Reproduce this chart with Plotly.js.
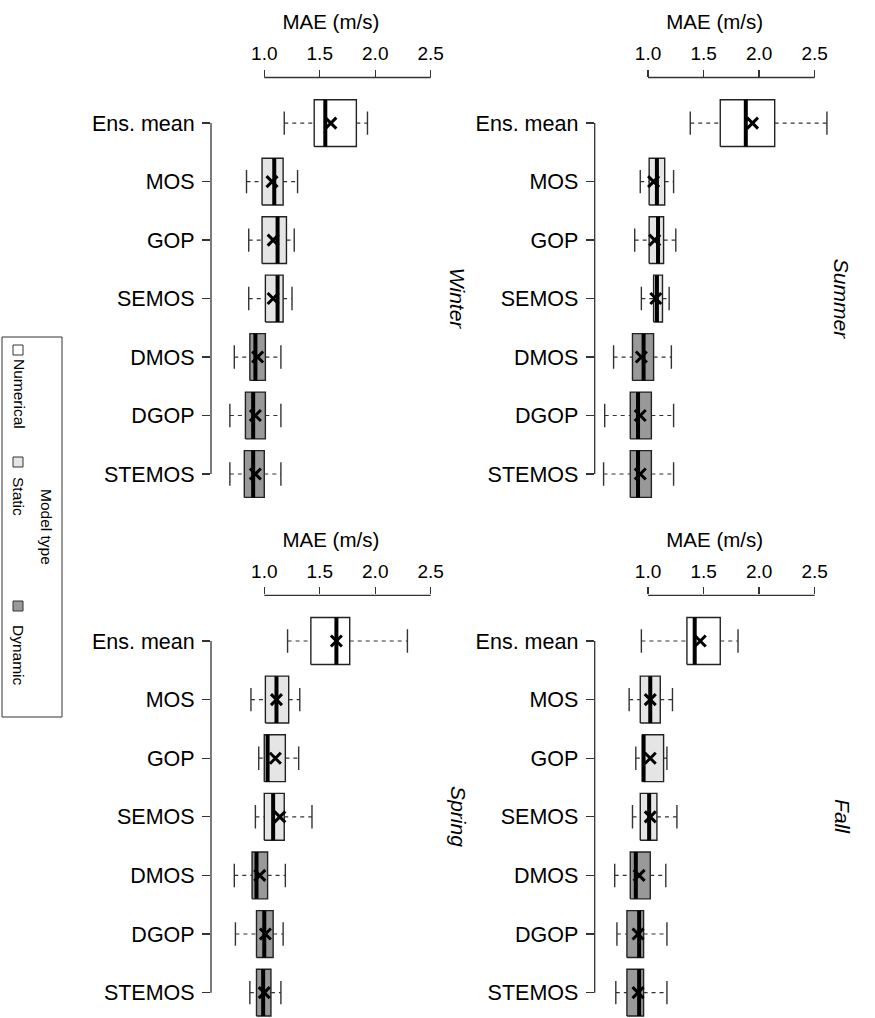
<!DOCTYPE html>
<html>
<head>
<meta charset="utf-8">
<script src="https://cdn.plot.ly/plotly-3.0.1.min.js"></script>
<style>html,body{margin:0;padding:0;background:#fff;}#chart{width:875px;height:1018px;}</style>
</head>
<body>
<div id="chart"></div>
<script>
// ---------- DATA ----------
const models = ['Ens. mean', 'MOS', 'GOP', 'SEMOS', 'DMOS', 'DGOP', 'STEMOS'];
const modelType = ['Numerical', 'Static', 'Static', 'Static', 'Dynamic', 'Dynamic', 'Dynamic'];
const seasons = ['Winter', 'Summer', 'Spring', 'Fall'];
const tickVals = [1.0, 1.5, 2.0, 2.5];
const tickText = ['1.0', '1.5', '2.0', '2.5'];

// Winter
const winterLow    = [1.18, 0.84, 0.86, 0.86, 0.73, 0.69, 0.69];
const winterQ1     = [1.45, 0.98, 0.98, 1.01, 0.87, 0.83, 0.82];
const winterMedian = [1.55, 1.09, 1.12, 1.12, 0.92, 0.90, 0.90];
const winterMean   = [1.60, 1.07, 1.08, 1.08, 0.94, 0.92, 0.92];
const winterQ3     = [1.83, 1.17, 1.20, 1.17, 1.01, 1.01, 1.00];
const winterHigh   = [1.93, 1.30, 1.27, 1.25, 1.15, 1.15, 1.15];

// Summer
const summerLow    = [1.38, 0.93, 0.88, 0.94, 0.69, 0.61, 0.60];
const summerQ1     = [1.65, 1.01, 1.01, 1.05, 0.86, 0.84, 0.84];
const summerMedian = [1.88, 1.08, 1.09, 1.08, 0.96, 0.91, 0.91];
const summerMean   = [1.94, 1.05, 1.06, 1.07, 0.94, 0.93, 0.93];
const summerQ3     = [2.14, 1.15, 1.14, 1.13, 1.05, 1.03, 1.03];
const summerHigh   = [2.61, 1.23, 1.25, 1.19, 1.21, 1.23, 1.23];

// Spring
const springLow    = [1.21, 0.88, 0.95, 0.92, 0.73, 0.74, 0.87];
const springQ1     = [1.42, 1.01, 1.00, 1.00, 0.89, 0.93, 0.93];
const springMedian = [1.65, 1.11, 1.03, 1.08, 0.93, 1.00, 0.99];
const springMean   = [1.65, 1.11, 1.10, 1.14, 0.96, 1.01, 1.00];
const springQ3     = [1.77, 1.22, 1.19, 1.18, 1.03, 1.08, 1.06];
const springHigh   = [2.29, 1.32, 1.31, 1.43, 1.19, 1.17, 1.15];

// Fall
const fallLow    = [0.94, 0.83, 0.89, 0.86, 0.70, 0.72, 0.71];
const fallQ1     = [1.35, 0.93, 0.95, 0.93, 0.84, 0.81, 0.81];
const fallMedian = [1.42, 1.02, 0.96, 1.01, 0.89, 0.92, 0.92];
const fallMean   = [1.47, 1.02, 1.02, 1.02, 0.92, 0.91, 0.91];
const fallQ3     = [1.65, 1.11, 1.14, 1.08, 1.02, 0.96, 0.96];
const fallHigh   = [1.81, 1.22, 1.17, 1.26, 1.16, 1.17, 1.17];

const typeNames = ['Numerical', 'Static', 'Dynamic'];
const typeColors = {Numerical: '#ffffff', Static: '#e5e5e5', Dynamic: '#999999'};

const seasonData = {
  Winter: [winterLow, winterQ1, winterMedian, winterMean, winterQ3, winterHigh],
  Summer: [summerLow, summerQ1, summerMedian, summerMean, summerQ3, summerHigh],
  Spring: [springLow, springQ1, springMedian, springMean, springQ3, springHigh],
  Fall:   [fallLow, fallQ1, fallMedian, fallMean, fallQ3, fallHigh]
};

// ---------- LAYOUT GEOMETRY ----------
const W = 875, H = 1018;
const FONT = 'Liberation Sans, Arial, Helvetica, sans-serif';
const px = v => v / W;
const py = v => 1 - v / H;

const panels = {
  Winter: {xa: 'x',  ya: 'y',  xd: [211, 450.7],   yd: [77.5, 519.6], yr: [0.22, 7.78]},
  Summer: {xa: 'x2', ya: 'y2', xd: [594.7, 834.7], yd: [77.5, 519.6], yr: [0.22, 7.78]},
  Spring: {xa: 'x3', ya: 'y3', xd: [211, 450.7],   yd: [595.3, 1018], yr: [0.567, 7.78]},
  Fall:   {xa: 'x4', ya: 'y4', xd: [594.7, 834.7], yd: [595.3, 1018], yr: [0.567, 7.78]}
};

const yPos = models.map((m, i) => models.length - i);  // Ens. mean at top
const BOXH = 0.4, CAPH = 0.2;

const traces = [];
const shapes = [];
const annotations = [];
const layout = {
  width: W, height: H,
  margin: {l: 0, r: 0, t: 0, b: 0},
  paper_bgcolor: '#ffffff', plot_bgcolor: '#ffffff',
  showlegend: false,
  font: {family: FONT, size: 18, color: '#000'}
};

seasons.forEach((s, si) => {
  const p = panels[s];
  const [lo, q1, med, mn, q3, hi] = seasonData[s];
  // boxes grouped by type
  typeNames.forEach(t => {
    const xs = [], ys = [];
    models.forEach((m, i) => {
      if (modelType[i] !== t) return;
      const y = yPos[i];
      xs.push(q1[i], q3[i], q3[i], q1[i], q1[i], null);
      ys.push(y - BOXH, y - BOXH, y + BOXH, y + BOXH, y - BOXH, null);
    });
    traces.push({type: 'scatter', mode: 'lines', x: xs, y: ys, xaxis: p.xa, yaxis: p.ya,
      fill: 'toself', fillcolor: typeColors[t], line: {color: '#222', width: 1.4}, hoverinfo: 'skip'});
  });
  // whiskers (dashed), caps, medians
  const wx = [], wy = [];
  const cx = [], cy = [];
  const mx = [], my = [];
  models.forEach((m, i) => {
    const y = yPos[i];
    wx.push(lo[i], q1[i], null, q3[i], hi[i], null);
    wy.push(y, y, null, y, y, null);
    cx.push(lo[i], lo[i], null, hi[i], hi[i], null);
    cy.push(y - CAPH, y + CAPH, null, y - CAPH, y + CAPH, null);
    mx.push(med[i], med[i], null);
    my.push(y - BOXH, y + BOXH, null);
  });
  traces.push({type: 'scatter', mode: 'lines', x: wx, y: wy, xaxis: p.xa, yaxis: p.ya,
    line: {color: '#333', width: 1.2, dash: '4px,4px'}, hoverinfo: 'skip'});
  traces.push({type: 'scatter', mode: 'lines', x: cx, y: cy, xaxis: p.xa, yaxis: p.ya,
    line: {color: '#333', width: 1.4}, hoverinfo: 'skip'});
  traces.push({type: 'scatter', mode: 'lines', x: mx, y: my, xaxis: p.xa, yaxis: p.ya,
    line: {color: '#000', width: 4}, hoverinfo: 'skip'});
  traces.push({type: 'scatter', mode: 'markers', x: mn, y: yPos, xaxis: p.xa, yaxis: p.ya,
    marker: {symbol: 'x-thin', size: 11, line: {color: '#000', width: 3}}, hoverinfo: 'skip'});

  const xk = 'xaxis' + (si === 0 ? '' : si + 1);
  const yk = 'yaxis' + (si === 0 ? '' : si + 1);
  layout[xk] = {
    domain: [px(p.xd[0]), px(p.xd[1])], range: [0.52, 2.68], anchor: p.ya, side: 'top',
    showline: false, showgrid: false, zeroline: false,
    ticks: 'outside', ticklen: 7, tickwidth: 1.3, tickcolor: '#333',
    tickvals: tickVals, ticktext: tickText, tickfont: {size: 19, family: FONT},
    ticklabelstandoff: 2,
    title: {text: 'MAE (m/s)', font: {size: 20.5, family: FONT}, standoff: 7},
    fixedrange: true
  };
  layout[yk] = {
    domain: [py(p.yd[1]), py(p.yd[0])], range: p.yr, anchor: p.xa,
    showline: false, showgrid: false, zeroline: false,
    ticks: 'outside', ticklen: 8, tickwidth: 1.3, tickcolor: '#333',
    tickvals: yPos, ticktext: models, tickfont: {size: 21.5, family: FONT},
    ticklabelstandoff: 3,
    fixedrange: true
  };
  // R-style axis lines spanning only the ticks
  shapes.push({type: 'line', xref: p.xa, yref: p.ya + ' domain', x0: tickVals[0], x1: tickVals[tickVals.length - 1], y0: 1, y1: 1,
    line: {color: '#333', width: 1.3}});
  shapes.push({type: 'line', xref: p.xa + ' domain', yref: p.ya, x0: 0, x1: 0, y0: yPos[yPos.length - 1], y1: yPos[0],
    line: {color: '#333', width: 1.3}});
  // season label
  annotations.push({xref: 'paper', yref: p.ya, x: px(p.xd[1] + 7), y: yPos[3], text: '<i>' + s + '</i>',
    showarrow: false, textangle: 90, xanchor: 'center', yanchor: 'middle', font: {size: 21, family: FONT}});
});

// ---------- LEGEND (rotated) ----------
shapes.push({type: 'rect', xref: 'paper', yref: 'paper', x0: px(2), x1: px(62), y0: py(717), y1: py(337),
  line: {color: '#333', width: 1}, fillcolor: 'rgba(0,0,0,0)'});
annotations.push({xref: 'paper', yref: 'paper', x: px(47), y: py(527), text: 'Model type', showarrow: false,
  textangle: 90, xanchor: 'center', yanchor: 'middle', font: {size: 15.5, family: FONT}});
const legendPos = [{sq: 350, txt: 394}, {sq: 462, txt: 496}, {sq: 606, txt: 655}];
typeNames.forEach((t, k) => {
  const L = legendPos[k];
  shapes.push({type: 'rect', xref: 'paper', yref: 'paper', x0: px(13), x1: px(23), y0: py(L.sq + 5), y1: py(L.sq - 5),
    line: {color: '#333', width: 1}, fillcolor: typeColors[t]});
  annotations.push({xref: 'paper', yref: 'paper', x: px(19), y: py(L.txt), text: t, showarrow: false,
    textangle: 90, xanchor: 'center', yanchor: 'middle', font: {size: 15.5, family: FONT}});
});

layout.shapes = shapes;
layout.annotations = annotations;

Plotly.newPlot('chart', traces, layout, {displayModeBar: false, staticPlot: true});
</script>
</body>
</html>
